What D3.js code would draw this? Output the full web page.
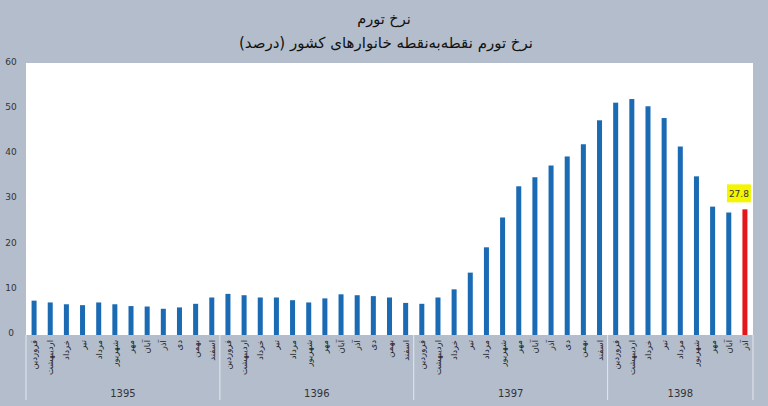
<!DOCTYPE html>
<html>
<head>
<meta charset="utf-8">
<script src="https://cdn.jsdelivr.net/npm/d3@7"></script>
<style>
  html, body { margin: 0; padding: 0; background: #b3bdcc; }
  svg { display: block; font-family: "DejaVu Sans", "Noto Sans", sans-serif; }
</style>
</head>
<body>
<div id="chart"></div>
<script>
// ── data ──────────────────────────────────────────────
const TITLE = 'نرخ تورم';
const SUBTITLE = 'نرخ تورم نقطه‌به‌نقطه خانوارهای کشور (درصد)';

const years = ['1395', '1396', '1397', '1398'];
const monthsPerYear = [12, 12, 12, 9];
const monthNames = ['فروردین', 'اردیبهشت', 'خرداد', 'تیر', 'مرداد', 'شهریور',
                    'مهر', 'آبان', 'آذر', 'دی', 'بهمن', 'اسفند'];

const values1395 = [7.6, 7.2, 6.8, 6.6, 7.2, 6.8, 6.4, 6.3, 5.8, 6.1, 6.9, 8.3];
const values1396 = [9.1, 8.8, 8.3, 8.3, 7.7, 7.2, 8.1, 9.0, 8.8, 8.6, 8.3, 7.1];
const values1397 = [6.9, 8.3, 10.1, 13.8, 19.4, 26.0, 32.9, 34.9, 37.5, 39.5, 42.2, 47.5];
const values1398 = [51.4, 52.2, 50.6, 48.0, 41.7, 35.1, 28.4, 27.1, 27.8];

const yTicks = [0, 10, 20, 30, 40, 50, 60];

// ── layout ────────────────────────────────────────────
const W = 768, H = 406;
const plot = { left: 26, right: 753, top: 63, bottom: 335 };

const rows = [];
[values1395, values1396, values1397, values1398].forEach((vals, yi) => {
  vals.forEach((v, mi) => rows.push({ key: `${years[yi]}-${mi}`, year: years[yi], month: monthNames[mi], value: v }));
});

const svg = d3.select('#chart').append('svg')
  .attr('width', W).attr('height', H);

svg.append('rect').attr('width', W).attr('height', H).attr('fill', '#b3bdcc');

svg.append('text')
  .attr('x', 384).attr('y', 24)
  .attr('text-anchor', 'middle')
  .attr('font-size', 14.5).attr('fill', '#111')
  .text(TITLE);

svg.append('text')
  .attr('x', 386).attr('y', 48)
  .attr('text-anchor', 'middle')
  .attr('font-size', 15).attr('fill', '#111')
  .text(SUBTITLE);

svg.append('rect')
  .attr('x', plot.left).attr('y', plot.top)
  .attr('width', plot.right - plot.left).attr('height', plot.bottom - plot.top)
  .attr('fill', '#ffffff');

const x = d3.scaleBand()
  .domain(rows.map(d => d.key))
  .range([plot.left, plot.right])
  .paddingInner(0.69).paddingOuter(0.345);

const y = d3.scaleLinear().domain([0, 60]).range([plot.bottom, plot.bottom - 60 * 4.52]);

// y tick labels sit on the gray margin
svg.append('g')
  .selectAll('text')
  .data(yTicks)
  .join('text')
  .attr('x', 11).attr('y', d => y(d) + 1)
  .attr('text-anchor', 'middle')
  .attr('font-size', 9).attr('fill', '#333')
  .text(d => d);

// bars
const last = rows[rows.length - 1];
svg.append('g')
  .selectAll('rect')
  .data(rows)
  .join('rect')
  .attr('x', d => x(d.key))
  .attr('y', d => y(d.value))
  .attr('width', x.bandwidth())
  .attr('height', d => y(0) - y(d.value))
  .attr('fill', d => d === last ? '#e3161b' : '#1a6ab4');

// label on last bar
const lx = x(last.key) + x.bandwidth() / 2 - 6;
const ly = y(last.value) - 16;
svg.append('rect')
  .attr('x', lx - 12).attr('y', ly - 9)
  .attr('width', 24).attr('height', 18)
  .attr('fill', '#f4f500');
svg.append('text')
  .attr('x', lx).attr('y', ly + 3.5)
  .attr('text-anchor', 'middle')
  .attr('font-size', 9).attr('fill', '#333')
  .text(last.value.toFixed(1));

// month labels, rotated
svg.append('g')
  .selectAll('text')
  .data(rows)
  .join('text')
  .attr('transform', d => `translate(${x(d.key) + x.bandwidth() / 2 + 3},${plot.bottom + 5}) rotate(-90)`)
  .attr('text-anchor', 'end')
  .attr('font-size', 8.5).attr('fill', '#222')
  .text(d => d.month);

// year groups
const step = x.step();
let start = 0;
const groups = years.map((yr, i) => {
  const g = { year: yr, x0: plot.left + start * step, x1: plot.left + (start + monthsPerYear[i]) * step };
  start += monthsPerYear[i];
  return g;
});

const sepX = [groups[0].x0, ...groups.map(g => g.x1)];
svg.append('g')
  .selectAll('line')
  .data(sepX)
  .join('line')
  .attr('x1', d => d).attr('x2', d => d)
  .attr('y1', plot.bottom).attr('y2', 400)
  .attr('stroke', '#e4e8ee').attr('stroke-width', 1);

svg.append('g')
  .selectAll('text')
  .data(groups)
  .join('text')
  .attr('x', d => (d.x0 + d.x1) / 2).attr('y', 397)
  .attr('text-anchor', 'middle')
  .attr('font-size', 10).attr('fill', '#333')
  .text(d => d.year);
</script>
</body>
</html>
